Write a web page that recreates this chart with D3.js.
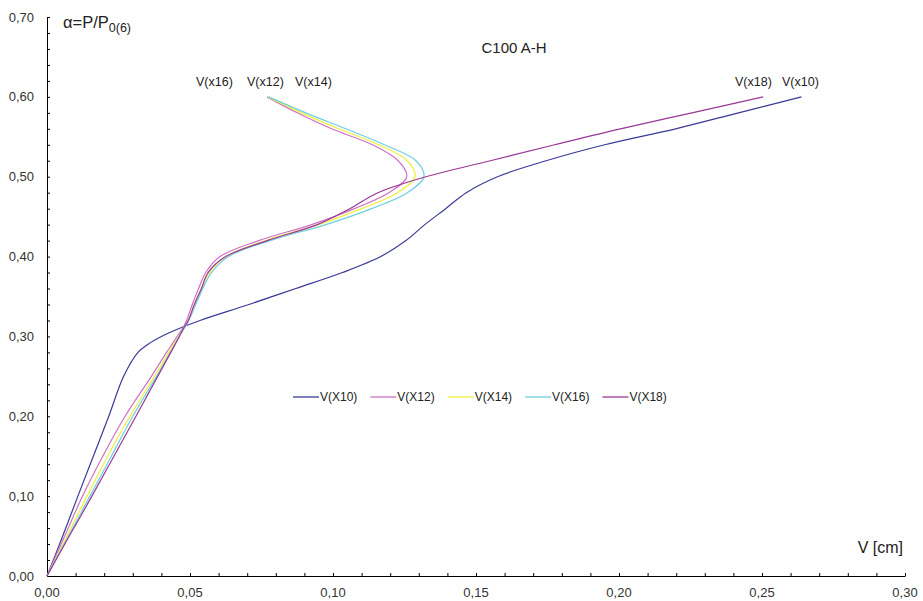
<!DOCTYPE html>
<html lang="en">
<head>
  <meta charset="UTF-8">
  <title>C100 A-H</title>
  <style>
    body { margin: 0; background: #fff; }
    svg { display: block; font-family: "Liberation Sans", Arial, sans-serif; }
  </style>
</head>
<body>
  <svg id="chart" width="923" height="601"></svg>

  <script src="https://d3js.org/d3.v7.min.js"></script>
  <script>
    // load levels alpha = P/P0(6), shared by all series
    const alpha = [0, 0.05, 0.10, 0.15, 0.20, 0.25, 0.28, 0.29, 0.30, 0.31, 0.32, 0.34, 0.36, 0.38,
      0.40, 0.42, 0.44, 0.46, 0.48, 0.50, 0.52, 0.54, 0.56, 0.58, 0.60];

    // deflection V [cm] for each series
    const vX10 = [0, 0.0055, 0.0108, 0.0162, 0.0216, 0.0268, 0.0318, 0.0352, 0.0400, 0.0462, 0.0535, 0.0706, 0.0870, 0.1033,
      0.1167, 0.1255, 0.1321, 0.1394, 0.1466, 0.1575, 0.1745, 0.1950, 0.2198, 0.2418, 0.2638];
    const vX12 = [0, 0.0062, 0.0124, 0.0195, 0.0273, 0.0365, 0.0418, 0.0437, 0.0455, 0.0474, 0.0488, 0.0508, 0.0530, 0.0555,
      0.0605, 0.0740, 0.0925, 0.1075, 0.1195, 0.1258, 0.1228, 0.1138, 0.0995, 0.0875, 0.0769];
    const vX14 = [0, 0.0070, 0.0140, 0.0212, 0.0290, 0.0376, 0.0426, 0.0443, 0.0460, 0.0478, 0.0494, 0.0516, 0.0540, 0.0568,
      0.0625, 0.0765, 0.0950, 0.1100, 0.1225, 0.1287, 0.1260, 0.1160, 0.1020, 0.0890, 0.0772];
    const vX16 = [0, 0.0075, 0.0150, 0.0225, 0.0300, 0.0383, 0.0431, 0.0447, 0.0462, 0.0480, 0.0496, 0.0520, 0.0545, 0.0575,
      0.0635, 0.0780, 0.0975, 0.1135, 0.1260, 0.1318, 0.1290, 0.1180, 0.1045, 0.0905, 0.0775];
    const vX18 = [0, 0.0078, 0.0157, 0.0234, 0.0311, 0.0387, 0.0433, 0.0448, 0.0463, 0.0477, 0.0494, 0.0515, 0.0540, 0.0563,
      0.0625, 0.0770, 0.0945, 0.1059, 0.1157, 0.1325, 0.1550, 0.1775, 0.2005, 0.2255, 0.2504];

    const seriesNames = ["V(X10)", "V(X12)", "V(X14)", "V(X16)", "V(X18)"];
    const seriesValues = [vX10, vX12, vX14, vX16, vX18];
    const seriesColors = ["#3a3a98", "#d070c4", "#eeee3c", "#6ccfe0", "#9a3898"];

    // end labels near the curve tips
    const endLabels = ["V(x16)", "V(x12)", "V(x14)", "V(x18)", "V(x10)"];
    const endLabelX = [196, 247, 295, 735, 782];

    const xTicks = [0, 0.05, 0.10, 0.15, 0.20, 0.25, 0.30];
    const yTicks = [0, 0.10, 0.20, 0.30, 0.40, 0.50, 0.60, 0.70];

    const svg = d3.select("#chart");
    const textColor = "#333";
    const fmt = d => d3.format(".2f")(d).replace(".", ",");

    const x = d3.scaleLinear().domain([0, 0.30]).range([47, 905]);
    const y = d3.scaleLinear().domain([0, 0.70]).range([576, 17]);

    // axes with small inward ticks
    svg.append("g").attr("transform", `translate(0,${y(0)})`)
      .call(d3.axisTop(x).tickValues(d3.range(0, 0.3001, 0.01)).tickSize(3).tickFormat("").tickSizeOuter(0));
    svg.append("g").attr("transform", `translate(${x(0)},0)`)
      .call(d3.axisRight(y).tickValues(d3.range(0, 0.7001, 0.02)).tickSize(3).tickFormat("").tickSizeOuter(0));
    svg.selectAll(".domain, .tick line").attr("stroke", "#000").attr("stroke-width", 1);

    // tick labels
    svg.append("g").selectAll("text").data(xTicks).join("text")
      .attr("x", d => x(d)).attr("y", 597)
      .attr("text-anchor", "middle").attr("font-size", 13).attr("fill", textColor)
      .text(fmt);
    svg.append("g").selectAll("text").data(yTicks).join("text")
      .attr("x", 34).attr("y", d => y(d)).attr("dy", "0.35em")
      .attr("text-anchor", "end").attr("font-size", 13).attr("fill", textColor)
      .text(fmt);

    // axis titles and chart title
    const yTitle = svg.append("text").attr("x", 63).attr("y", 28)
      .attr("font-size", 16.5).attr("fill", "#222");
    yTitle.append("tspan").text("α=P/P");
    yTitle.append("tspan").attr("font-size", 12.5).attr("dy", 4).text("0(6)");

    svg.append("text").attr("x", 903).attr("y", 553)
      .attr("text-anchor", "end").attr("font-size", 16).attr("fill", "#222")
      .text("V [cm]");

    svg.append("text").attr("x", 514).attr("y", 53)
      .attr("text-anchor", "middle").attr("font-size", 15).attr("fill", "#222")
      .text("C100 A-H");

    // curves
    const line = d3.line()
      .x(d => x(d[0]))
      .y(d => y(d[1]))
      .curve(d3.curveCatmullRom.alpha(0.5));

    svg.append("g").selectAll("path")
      .data(seriesValues)
      .join("path")
      .attr("d", v => line(v.map((val, i) => [val, alpha[i]])))
      .attr("fill", "none")
      .attr("stroke", (v, i) => seriesColors[i])
      .attr("stroke-width", 1.2);

    // labels at curve ends
    svg.append("g").selectAll("text").data(endLabels).join("text")
      .attr("x", (d, i) => endLabelX[i]).attr("y", 86)
      .attr("font-size", 12.5).attr("fill", "#222")
      .text(d => d);

    // legend
    const legend = svg.append("g").attr("transform", "translate(293,397)");
    let lx = 0;
    seriesNames.forEach((name, i) => {
      legend.append("line")
        .attr("x1", lx).attr("x2", lx + 26).attr("y1", 0).attr("y2", 0)
        .attr("stroke", seriesColors[i]).attr("stroke-width", 1.3);
      const t = legend.append("text")
        .attr("x", lx + 27).attr("y", 0).attr("dy", "0.35em")
        .attr("font-size", 12).attr("fill", "#222")
        .text(name);
      lx += 27 + t.node().getComputedTextLength() + 13;
    });
  </script>
</body>
</html>
